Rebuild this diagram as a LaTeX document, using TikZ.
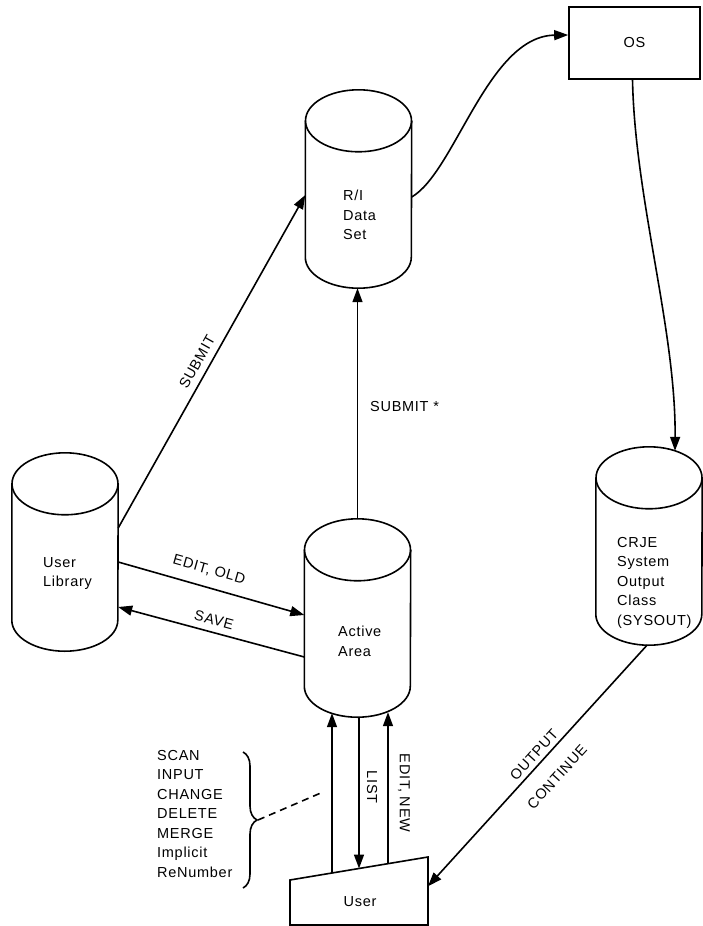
\documentclass[tikz,border=0pt]{standalone}
\usepackage{fontspec}
\setmainfont{Liberation Sans}[LetterSpace=5]
\usetikzlibrary{arrows.meta,calc,decorations.pathreplacing}
\tikzset{
  every node/.style={font=\fontsize{14.5}{19.5}\selectfont, inner sep=0pt},
  line/.style={line width=1.6pt},
  arr/.style={line width=1.6pt, -{Triangle[length=14pt,width=10pt]}},
  cylbox/.style={minimum width=106pt, minimum height=198pt, inner sep=0pt},
  txt/.style={align=left, anchor=north west},
}
\newcommand\drawcyl[1]{%
  \draw[line] ([yshift=-31pt]#1.north west) -- ([yshift=31pt]#1.south west)
    arc[start angle=180,end angle=360,x radius=53pt,y radius=31pt]
    -- ([yshift=-31pt]#1.north east);
  \draw[line] ([yshift=-31pt]#1.north) ellipse [x radius=53pt, y radius=31pt];}
\begin{document}
\begin{tikzpicture}[x=1pt,y=-1pt]
\useasboundingbox (0,0) rectangle (702,926);
% cylinders
\node[cylbox] (ri) at (358.5,189) {};
\node[cylbox] (lib) at (65,552) {};
\node[cylbox] (act) at (357.5,618) {};
\node[cylbox] (crje) at (649,546) {};
\drawcyl{ri}
\drawcyl{lib}
\drawcyl{act}
\drawcyl{crje}
\node[txt] (riT) at (343,190) {R/I\\Data\\Set};
\node[txt] (libT) at (43,557) {User\\Library};
\node[txt] (actT) at (338,626) {Active\\Area};
\node[txt] (crjeT) at (617,537) {CRJE\\System\\Output\\Class\\(SYSOUT)};
% OS box
\node[draw, line width=1.6pt, minimum width=131pt, minimum height=72pt] (os) at (634.5,43) {OS};
% User box
\coordinate (utl) at (290,880);
\coordinate (utr) at (428,857);
\coordinate (ubr) at (428,925);
\coordinate (ubl) at (290,925);
\draw[line] (ubl) -- (utl) -- (utr) -- (ubr) -- cycle;
\node (user) at (360,902) {User};
% connectors
\draw[arr] ([yshift=24pt]lib.east) -- ([yshift=-6pt]ri.west);
\draw[arr] ([yshift=-8pt]ri.east) .. controls (455,172) and (488,36) .. ([yshift=8pt]os.west);
\draw[arr] ([xshift=-2pt]os.south) .. controls (635,200) and (676,330) .. ([xshift=26pt,yshift=-4pt]crje.north);
\draw[arr] (act.north) -- (act.north |- ri.south);
\draw[arr] ([yshift=-10pt]lib.east) -- ([yshift=3pt]act.west);
\draw[arr] ([yshift=-39pt]act.west) -- ([yshift=-55pt]lib.east);
\draw[arr] ([xshift=-2pt]crje.south) -- ($(utr)!0.43!(ubr)$);
\draw[arr] ($(utl)!0.304!(utr)$) -- ([xshift=-25.5pt,yshift=4pt]act.south);
\draw[arr] ([xshift=1.5pt]act.south) -- ($(utl)!0.5!(utr)$);
\draw[arr] ($(utl)!0.71!(utr)$) -- ([xshift=30.5pt,yshift=5pt]act.south);
% labels
\node[rotate=60.7] (lSubmit) at (197,362) {SUBMIT};
\node[anchor=west] (lSubmitStar) at (370,407) {SUBMIT *};
\node[rotate=-15.8] (lEditOld) at (209,570) {EDIT, OLD};
\node[rotate=-15] (lSave) at (214,620) {SAVE};
\node[rotate=47.7] (lOutput) at (534,755) {OUTPUT};
\node[rotate=47.7] (lCont) at (557,777) {CONTINUE};
\node[rotate=-90] (lList) at (372,787) {LIST};
\node[rotate=-90] (lEditNew) at (404,793) {EDIT, NEW};
% command list with brace
\node[txt] (list) at (157,750) {SCAN\\INPUT\\CHANGE\\DELETE\\MERGE\\Implicit\\ReNumber};
\coordinate (bt) at (243,752);
\coordinate (bb) at (243,888);
\draw[line, decorate, decoration={brace, amplitude=14pt}] (bt) -- (bb);
\coordinate (dashend) at (323,792);
\draw[line, dash pattern=on 7pt off 5pt] ($(bt)!0.5!(bb)+(15,0)$) -- (dashend);
\end{tikzpicture}
\end{document}
